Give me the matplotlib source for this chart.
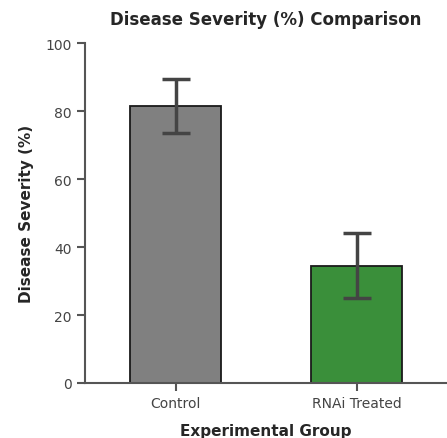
import matplotlib
matplotlib.use("Agg")
import matplotlib.pyplot as plt

plt.rcParams["font.family"] = ["DejaVu Sans"]

groups = ["Control", "RNAi Treated"]
severity = [81.5, 34.5]
errors = [8.0, 9.5]
colors = ["#808080", "#3a8f3a"]

fig = plt.figure(figsize=(4.47, 4.39), dpi=100)
ax = fig.add_axes([85 / 447, 1 - 384 / 439, 362 / 447, 340 / 439])

x = list(range(len(groups)))
ax.bar(x, severity, width=0.5, color=colors, edgecolor="#1a1a1a", linewidth=1.3,
       yerr=errors, capsize=10,
       error_kw=dict(ecolor="#444444", elinewidth=2.5, capthick=2.5))

ax.set_xlim(-0.5, 1.5)
ax.set_ylim(0, 100)
ax.set_yticks([0, 20, 40, 60, 80, 100])
ax.set_xticks(x)
ax.set_xticklabels(groups)

for side in ["top", "right"]:
    ax.spines[side].set_visible(False)
for side in ["left", "bottom"]:
    ax.spines[side].set_color("#555555")
    ax.spines[side].set_linewidth(1.5)
ax.tick_params(colors="#555555", labelcolor="#444444", labelsize=10, width=1.5, length=6)

ax.set_title("Disease Severity (%) Comparison", fontsize=12, fontweight="bold",
             color="#262626", pad=14)
ax.set_xlabel("Experimental Group", fontsize=11, fontweight="bold", color="#262626", labelpad=9)
ax.set_ylabel("Disease Severity (%)", fontsize=11, fontweight="bold", color="#262626", labelpad=8)

fig.savefig("out.png", dpi=100)
